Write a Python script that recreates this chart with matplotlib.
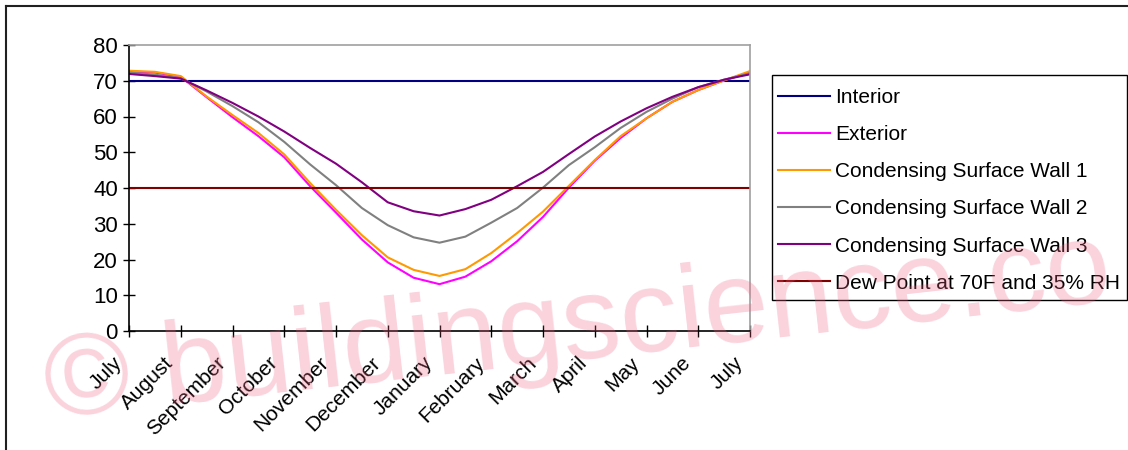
#!/usr/bin/env python3
"""
Condensing surface temperatures through the year vs. interior dew point.

Recreates the monthly wall temperature chart and saves it as out.png.
"""

import numpy as np
import matplotlib.pyplot as plt
import matplotlib.transforms as mtransforms
from matplotlib.patches import Rectangle

# Tick labels (one per month boundary, the data is half-monthly)
month_labels = ['July', 'August', 'September', 'October', 'November', 'December',
                'January', 'February', 'March', 'April', 'May', 'June', 'July']

# Half-month readings, July -> July (degrees F)
exterior = [72.6, 72.3, 71.1, 65.4, 59.8, 54.5, 48.6, 40.5, 33.1, 25.6, 19.2, 14.9, 13.1,
            15.2, 19.5, 25.1, 31.9, 40.1, 47.6, 54.0, 59.5, 64.1, 67.4, 70.1, 72.4]
wall_1 = [72.8, 72.5, 71.3, 65.6, 60.4, 55.4, 49.4, 41.4, 33.9, 26.8, 20.6, 17.1, 15.4,
          17.3, 21.8, 27.4, 33.4, 40.6, 47.8, 54.5, 59.5, 64.1, 67.4, 70.1, 72.7]
wall_2 = [72.3, 71.7, 70.7, 67.0, 62.9, 58.4, 52.9, 46.6, 40.8, 34.4, 29.6, 26.2, 24.7,
          26.4, 30.3, 34.4, 40.1, 46.4, 51.4, 56.8, 61.3, 65.0, 68.2, 70.3, 72.1]
wall_3 = [71.9, 71.3, 70.6, 67.3, 63.8, 60.0, 55.8, 51.2, 46.8, 41.6, 36.0, 33.5, 32.3,
          34.1, 36.7, 40.5, 44.5, 49.5, 54.4, 58.6, 62.3, 65.5, 68.2, 70.3, 71.8]

# Constant reference lines
interior_temp = 70
dew_point = 40

W, H = 1128, 450


def main():
    plt.rcParams['font.family'] = ['Liberation Sans', 'DejaVu Sans']

    fig = plt.figure(figsize=(W / 100, H / 100), dpi=100)
    ax = fig.add_axes([129 / W, 1 - 331 / H, 621 / W, 286 / H])

    x = np.arange(len(exterior))
    n = len(x)

    # Series, in the same order as the legend
    ax.plot(x, [interior_temp] * n, color='#000080', lw=1.5, label='Interior')
    ax.plot(x, exterior, color='#FF00FF', lw=1.5, label='Exterior')
    ax.plot(x, wall_1, color='#FF9900', lw=1.5, label='Condensing Surface Wall 1')
    ax.plot(x, wall_2, color='#808080', lw=1.5, label='Condensing Surface Wall 2')
    ax.plot(x, wall_3, color='#800080', lw=1.5, label='Condensing Surface Wall 3')
    ax.plot(x, [dew_point] * n, color='#800000', lw=1.5,
            label='Dew Point at 70F and 35% RH')

    # Axes limits and ticks
    ax.set_xlim(0, n - 1)
    ax.set_ylim(0, 80)
    ax.set_yticks(range(0, 81, 10))
    ax.set_xticks(x[::2])
    ax.set_xticklabels(month_labels, rotation=45, ha='right', va='center',
                       rotation_mode='anchor')
    ax.tick_params(axis='both', direction='inout', length=8, width=1,
                   colors='black')
    ax.tick_params(axis='x', pad=14, labelsize=15)
    ax.tick_params(axis='y', pad=4, labelsize=16)

    # nudge month labels a bit left/down like the original
    shift = mtransforms.ScaledTranslation(-10 / 100, -4 / 100, fig.dpi_scale_trans)
    for lbl in ax.get_xticklabels():
        lbl.set_transform(lbl.get_transform() + shift)

    # Excel-style plot area: black axes, gray frame
    ax.spines['left'].set_color('black')
    ax.spines['bottom'].set_color('black')
    ax.spines['top'].set_color('#A0A0A0')
    ax.spines['right'].set_color('#A0A0A0')
    for s in ax.spines.values():
        s.set_linewidth(1.2)

    # Legend (frame drawn separately so the box size matches)
    fig.legend(loc='upper left', bbox_to_anchor=(778 / W, 1 - 88 / H),
               frameon=False, fontsize=15, handlelength=2.5, handletextpad=0.25,
               labelspacing=0.87, borderpad=0, borderaxespad=0)
    fig.add_artist(Rectangle((772 / W, 1 - 300 / H), 355 / W, 225 / H,
                             transform=fig.transFigure, fill=False,
                             edgecolor='black', lw=1.0))

    # Chart area border (top and left edges visible)
    fig.add_artist(plt.Line2D([6 / W, 1], [1 - 6 / H, 1 - 6 / H],
                              color='#202020', lw=1.5, transform=fig.transFigure))
    fig.add_artist(plt.Line2D([6 / W, 6 / W], [0, 1 - 6 / H],
                              color='#202020', lw=1.5, transform=fig.transFigure))

    # Watermark across the whole figure
    fig.text(48 / W, 1 - 418 / H, '\u00a9 buildingscience.co', fontsize=84,
             color='#F06080', alpha=0.28, rotation=6.3, ha='left', va='baseline',
             rotation_mode='anchor', zorder=10)

    fig.savefig('out.png', dpi=100)
    plt.close(fig)


if __name__ == '__main__':
    main()
